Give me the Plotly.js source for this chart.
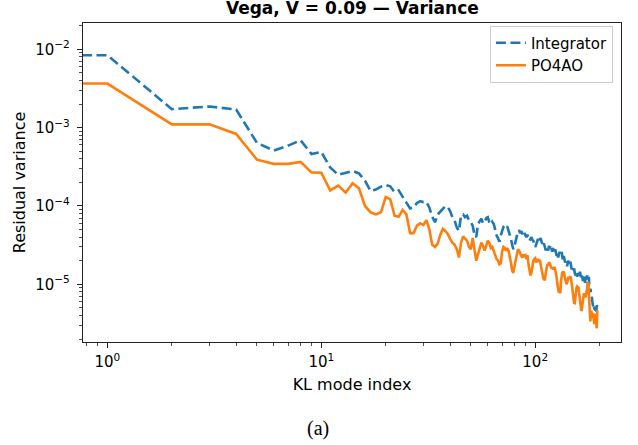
<!DOCTYPE html>
<html>
<head>
<meta charset="utf-8">
<script src="https://cdn.plot.ly/plotly-3.0.1.min.js"></script>
<style>
  html, body { margin: 0; padding: 0; background: #fff; }
  #chart { width: 638px; height: 445px; }
</style>
</head>
<body>
<div id="chart"></div>
<script>
// ---- Data ----
const chartTitle = "Vega, V = 0.09 \u2014 Variance";
const xLabel = "KL mode index";
const yLabel = "Residual variance";
const caption = "(a)";
const seriesNames = ["Integrator", "PO4AO"];

// KL mode index 0..195 (index 0 is clipped on the log axis, as matplotlib does)
const klIndex = Array.from({length: 196}, (_, i) => i);

const integrator = [
  8.4e-3, 8.4e-3, 1.72e-3, 1.86e-3, 1.70e-3, 6.4e-4, 5.1e-4, 5.9e-4, 6.9e-4, 4.6e-4,
  4.9e-4, 3.1e-4, 2.5e-4, 2.68e-4, 2.8e-4, 2.6e-4, 2.1e-4, 1.55e-4, 1.62e-4, 1.76e-4,
  1.85e-4, 1.78e-4, 1.5e-4, 1.58e-4, 1.33e-4, 1.1e-4, 9.3e-5, 9.6e-5, 1.09e-4, 1.15e-4,
  1.12e-4, 1.13e-4, 9.5e-5, 7.3e-5, 6.2e-5, 7.8e-5, 8.5e-5, 9.2e-5, 9.9e-5, 9.7e-5,
  8.6e-5, 7.2e-5, 6.5e-5, 5.3e-5, 4.8e-5, 7.6e-5, 7.8e-5, 7.2e-5, 7.5e-5, 6.6e-5,
  6.2e-5, 5.6e-5, 4.3e-5, 4.0e-5, 5.8e-5, 6.4e-5, 6.9e-5, 6.0e-5, 6.2e-5, 7.0e-5,
  7.2e-5, 6.2e-5, 5.8e-5, 6.3e-5, 5.9e-5, 5.0e-5, 4.2e-5, 3.9e-5, 3.5e-5, 4.2e-5,
  5.0e-5, 5.4e-5, 5.5e-5, 5.2e-5, 5.5e-5, 4.9e-5, 4.4e-5, 3.8e-5, 3.2e-5, 2.8e-5,
  3.1e-5, 3.6e-5, 4.2e-5, 4.7e-5, 4.9e-5, 4.5e-5, 4.8e-5, 4.4e-5, 4.1e-5, 4.5e-5,
  4.2e-5, 4.0e-5, 4.3e-5, 3.9e-5, 3.6e-5, 3.8e-5, 4.0e-5, 3.7e-5, 3.6e-5, 3.3e-5,
  3.0e-5, 3.2e-5, 3.5e-5, 3.8e-5, 3.4e-5, 3.6e-5, 3.9e-5, 3.5e-5, 3.3e-5, 3.6e-5,
  3.2e-5, 2.9e-5, 2.7e-5, 3.0e-5, 2.8e-5, 2.7e-5, 3.1e-5, 2.9e-5, 3.2e-5, 2.8e-5,
  2.6e-5, 2.9e-5, 2.7e-5, 2.5e-5, 2.8e-5, 2.5e-5, 2.3e-5, 2.5e-5, 2.2e-5, 2.4e-5,
  2.6e-5, 2.3e-5, 2.5e-5, 2.6e-5, 2.2e-5, 2.0e-5, 2.3e-5, 2.1e-5, 1.9e-5, 2.0e-5,
  1.85e-5, 1.7e-5, 1.9e-5, 2.0e-5, 1.75e-5, 1.8e-5, 1.95e-5, 1.7e-5, 1.55e-5, 1.6e-5,
  1.45e-5, 1.5e-5, 1.6e-5, 1.4e-5, 1.3e-5, 1.42e-5, 1.35e-5, 1.25e-5, 1.4e-5, 1.3e-5,
  1.2e-5, 1.35e-5, 1.45e-5, 1.3e-5, 1.15e-5, 1.28e-5, 1.25e-5, 1.1e-5, 1.2e-5, 1.32e-5,
  1.15e-5, 1.05e-5, 1.2e-5, 1.3e-5, 1.15e-5, 1.3e-5, 1.0e-5, 9.0e-6, 1.25e-5, 8.5e-6,
  8.0e-6, 8.8e-6, 7.5e-6, 7.0e-6, 6.8e-6, 6.0e-6, 5.5e-6, 5.0e-6, 5.3e-6, 4.8e-6,
  5.2e-6, 4.6e-6, 5.0e-6, 4.5e-6, 5.4e-6, 5.2e-6
];

const po4ao = [
  3.65e-3, 3.65e-3, 1.10e-3, 1.10e-3, 8.3e-4, 3.9e-4, 3.45e-4, 3.45e-4, 3.65e-4, 2.68e-4,
  2.66e-4, 1.58e-4, 1.82e-4, 1.48e-4, 1.95e-4, 1.68e-4, 1.0e-4, 8.3e-5, 7.8e-5, 8.3e-5,
  1.3e-4, 1.22e-4, 7.5e-5, 7.3e-5, 8.9e-5, 7.8e-5, 4.5e-5, 4.5e-5, 5.6e-5, 6.0e-5,
  5.7e-5, 6.6e-5, 5.0e-5, 3.2e-5, 3.0e-5, 3.3e-5, 4.3e-5, 5.1e-5, 4.8e-5, 4.4e-5,
  3.8e-5, 3.4e-5, 3.2e-5, 2.8e-5, 2.2e-5, 3.4e-5, 4.1e-5, 3.8e-5, 3.6e-5, 3.0e-5,
  2.8e-5, 3.9e-5, 2.6e-5, 2.0e-5, 2.4e-5, 2.9e-5, 3.4e-5, 3.1e-5, 2.7e-5, 3.1e-5,
  3.6e-5, 3.4e-5, 2.9e-5, 3.0e-5, 2.6e-5, 2.4e-5, 2.1e-5, 2.0e-5, 1.8e-5, 1.85e-5,
  2.6e-5, 3.0e-5, 2.9e-5, 2.7e-5, 2.9e-5, 2.7e-5, 2.3e-5, 1.9e-5, 1.5e-5, 1.4e-5,
  1.7e-5, 2.1e-5, 2.5e-5, 2.8e-5, 2.7e-5, 2.4e-5, 2.3e-5, 2.2e-5, 2.4e-5, 2.3e-5,
  2.35e-5, 2.1e-5, 2.35e-5, 1.8e-5, 1.5e-5, 1.3e-5, 1.4e-5, 1.7e-5, 2.0e-5, 2.1e-5,
  2.15e-5, 1.9e-5, 2.0e-5, 2.1e-5, 2.0e-5, 2.05e-5, 1.8e-5, 1.5e-5, 1.3e-5, 1.2e-5,
  1.15e-5, 1.15e-5, 1.4e-5, 1.7e-5, 1.8e-5, 1.75e-5, 1.9e-5, 1.85e-5, 1.7e-5, 1.6e-5,
  1.65e-5, 1.55e-5, 1.6e-5, 1.65e-5, 1.55e-5, 1.4e-5, 1.2e-5, 1.0e-5, 8.5e-6, 7.8e-6,
  8.5e-6, 7.7e-6, 1.1e-5, 1.3e-5, 1.45e-5, 1.4e-5, 1.46e-5, 1.3e-5, 1.15e-5, 1.05e-5,
  1.0e-5, 1.05e-5, 1.15e-5, 1.25e-5, 1.2e-5, 1.25e-5, 1.26e-5, 1.2e-5, 1.05e-5, 8.5e-6,
  7.0e-6, 6.2e-6, 5.8e-6, 5.75e-6, 7.0e-6, 8.5e-6, 9.0e-6, 9.4e-6, 9.2e-6, 9.4e-6,
  8.0e-6, 6.5e-6, 5.5e-6, 5.0e-6, 4.7e-6, 4.7e-6, 5.5e-6, 6.5e-6, 7.5e-6, 7.7e-6,
  7.2e-6, 7.7e-6, 6.8e-6, 7.5e-6, 8.8e-6, 1.0e-5, 1.05e-5, 1.08e-5, 8.0e-6, 5.0e-6,
  3.5e-6, 3.36e-6, 4.0e-6, 4.6e-6, 4.2e-6, 3.8e-6, 4.3e-6, 3.9e-6, 3.4e-6, 3.1e-6,
  3.6e-6, 4.2e-6, 3.5e-6, 2.9e-6, 2.75e-6, 4.7e-6
];

const xTickVals = [1, 10, 100];
const xTickText = ["10<sup>0</sup>", "10<sup>1</sup>", "10<sup>2</sup>"];
const yTickVals = [1e-5, 1e-4, 1e-3, 1e-2];
const yTickText = ["10<sup>\u22125</sup>", "10<sup>\u22124</sup>", "10<sup>\u22123</sup>", "10<sup>\u22122</sup>"];

// ---- Rendering helpers ----
// matplotlib clips non-positive values on a log axis to a tiny positive number
const logClip = v => (v > 0 ? v : 1e-300);
const xPlot = klIndex.map(logClip);

function minorLogTicks(loDecade, hiDecade) {
  const out = [];
  for (let d = loDecade; d <= hiDecade; d++) {
    for (let m = 2; m <= 9; m++) out.push(m * Math.pow(10, d));
  }
  return out;
}

const FONT = "DejaVu Sans, Verdana, sans-serif";
const AXCOL = "#222";

const traces = [
  {
    x: xPlot, y: integrator, name: seriesNames[0], type: "scatter", mode: "lines",
    line: { color: "#1f77b4", width: 2.6, dash: "10px,4.5px" }
  },
  {
    x: xPlot, y: po4ao, name: seriesNames[1], type: "scatter", mode: "lines",
    line: { color: "#ff7f0e", width: 2.6 }
  }
];

const layout = {
  width: 638, height: 445,
  margin: { l: 83, r: 17, t: 23, b: 103, pad: 0 },
  paper_bgcolor: "#fff", plot_bgcolor: "#fff",
  font: { family: FONT, color: "#000", size: 14 },
  showlegend: true,
  title: {
    text: chartTitle,
    font: { family: FONT, size: 17, weight: "bold", color: "#000" },
    x: 0.5523, xref: "container", xanchor: "center",
    y: 0.982, yref: "container", yanchor: "middle"
  },
  xaxis: {
    type: "log",
    range: [-0.114, 2.401],
    tickmode: "array", tickvals: xTickVals, ticktext: xTickText,
    ticks: "outside", ticklen: 5, tickwidth: 1, tickcolor: AXCOL,
    minor: { tickmode: "array", tickvals: minorLogTicks(-1, 2), ticks: "outside", ticklen: 2.7, tickwidth: 0.8, tickcolor: AXCOL, showgrid: false },
    showgrid: false, zeroline: false,
    showline: true, linecolor: AXCOL, linewidth: 1.2, mirror: true,
    tickfont: { family: FONT, size: 15, color: "#000" },
    ticklabelstandoff: 1,
    title: { text: xLabel, font: { family: FONT, size: 16, color: "#000" }, standoff: 8 }
  },
  yaxis: {
    type: "log",
    range: [-5.736, -1.665],
    tickmode: "array", tickvals: yTickVals, ticktext: yTickText,
    ticks: "outside", ticklen: 5, tickwidth: 1, tickcolor: AXCOL,
    minor: { tickmode: "array", tickvals: minorLogTicks(-6, -2), ticks: "outside", ticklen: 2.7, tickwidth: 0.8, tickcolor: AXCOL, showgrid: false },
    showgrid: false, zeroline: false,
    showline: true, linecolor: AXCOL, linewidth: 1.2, mirror: true,
    tickfont: { family: FONT, size: 15, color: "#000" },
    ticklabelstandoff: 4,
    title: { text: yLabel, font: { family: FONT, size: 16, color: "#000" }, standoff: 5 }
  },
  legend: {
    x: 0.985, xanchor: "right", y: 0.992, yanchor: "top",
    bgcolor: "rgba(255,255,255,0.85)", bordercolor: "#cccccc", borderwidth: 1,
    font: { family: FONT, size: 15, color: "#000" },
    tracegroupgap: 0
  },
  annotations: [
    {
      text: caption, xref: "paper", yref: "paper",
      x: 0.437, y: -0.27, xanchor: "center", yanchor: "middle",
      showarrow: false,
      font: { family: "Liberation Serif, Times New Roman, serif", size: 20, color: "#000" }
    }
  ]
};

Plotly.newPlot("chart", traces, layout, { staticPlot: true, displayModeBar: false });
</script>
</body>
</html>
